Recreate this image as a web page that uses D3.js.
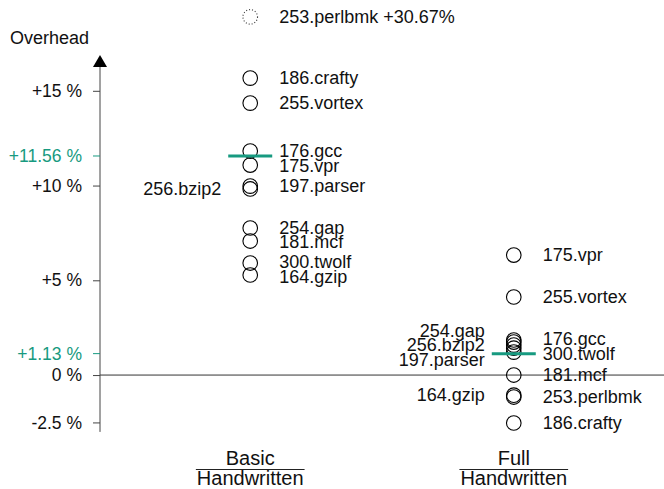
<!DOCTYPE html>
<html>
<head>
<meta charset="utf-8">
<script src="https://cdn.jsdelivr.net/npm/d3@7"></script>
<style>
  body { margin: 0; background: #fff; }
  text { font-family: "Liberation Sans", Arial, Helvetica, sans-serif; fill: #111; }
</style>
</head>
<body>
<div id="chart"></div>
<script>
const width = 664;
const height = 489;

// data (overhead in %)
const benchmarks = ["164.gzip", "175.vpr", "176.gcc", "181.mcf", "186.crafty", "197.parser",
  "253.perlbmk", "254.gap", "255.vortex", "256.bzip2", "300.twolf"];
const basicOverhead = [5.28, 11.08, 11.82, 7.07, 15.67, 9.97, 30.67, 7.76, 14.35, 9.82, 5.91];
const fullOverhead = [-1.06, 6.33, 1.85, 0.0, -2.53, 1.42, -1.16, 1.74, 4.12, 1.58, 1.21];
const basicLeftLabels = ["256.bzip2"];
const fullLeftLabels = ["164.gzip", "197.parser", "254.gap", "256.bzip2"];
const meanOverhead = [11.56, 1.13];
const meanLabels = ["+11.56 %", "+1.13 %"];
const columns = ["Basic", "Full"];
const columnSub = ["Handwritten", "Handwritten"];
const tickValues = [-2.5, 0, 5, 10, 15];
const tickLabels = ["-2.5 %", "0 %", "+5 %", "+10 %", "+15 %"];

const axisMax = 17; // values above this are drawn clipped at the top
const clipLevel = 18.9;
const green = "#179a80";

const svg = d3.select("#chart").append("svg").attr("width", width).attr("height", height);

const x = d3.scalePoint().domain(columns).range([100, 664]).padding(0.57);
const y = d3.scaleLinear().domain([-3, axisMax]).range([431.9, 52.9]);

// zero line
svg.append("line")
  .attr("x1", 100).attr("x2", width)
  .attr("y1", y(0)).attr("y2", y(0))
  .attr("stroke", "#333").attr("stroke-width", 1);

// y axis
const yAxis = d3.axisLeft(y)
  .tickValues(tickValues)
  .tickFormat((d, i) => tickLabels[i])
  .tickSize(7)
  .tickSizeOuter(0)
  .tickPadding(11);

const ax = svg.append("g").attr("transform", "translate(100,0)").call(yAxis);
ax.select(".domain").attr("stroke", "#444").attr("d", `M0,${y(-3)}V${y(axisMax) + 10}`);
ax.selectAll(".tick line").attr("stroke", "#444");
ax.selectAll(".tick text").style("font-size", "17.5px").attr("fill", "#111");

// arrow head
svg.append("path")
  .attr("d", `M93,${y(axisMax) + 14}L100,${y(axisMax) + 2}L107,${y(axisMax) + 14}Z`)
  .attr("fill", "#000");

svg.append("text")
  .attr("x", 10).attr("y", 38).attr("dy", "0.35em")
  .style("font-size", "18px")
  .text("Overhead");

// mean markers on the axis
meanOverhead.forEach((m, i) => {
  svg.append("line")
    .attr("x1", 93).attr("x2", 100).attr("y1", y(m)).attr("y2", y(m))
    .attr("stroke", green).attr("stroke-width", 1);
  svg.append("text")
    .attr("x", 82).attr("y", y(m)).attr("dy", "0.35em")
    .attr("text-anchor", "end")
    .style("font-size", "17.5px")
    .style("fill", green)
    .text(meanLabels[i]);
});

// build point records
function records(values, col, leftLabels) {
  return benchmarks.map((b, i) => ({
    name: b,
    value: values[i],
    col: col,
    clipped: values[i] > axisMax,
    side: leftLabels.includes(b) ? "left" : "right"
  }));
}
const pts = records(basicOverhead, "Basic", basicLeftLabels)
  .concat(records(fullOverhead, "Full", fullLeftLabels));
pts.forEach(d => { d.py = y(d.clipped ? clipLevel : d.value); d.ly = d.py; });

// spread labels that would sit on top of each other
function dodge(group, gap) {
  group.sort((a, b) => a.py - b.py);
  for (let iter = 0; iter < 50; iter++) {
    let moved = false;
    for (let i = 1; i < group.length; i++) {
      const diff = group[i].ly - group[i - 1].ly;
      if (diff < gap) {
        const shift = (gap - diff) / 2;
        group[i - 1].ly -= shift;
        group[i].ly += shift;
        moved = true;
      }
    }
    if (!moved) break;
  }
}
columns.forEach(c => {
  ["left", "right"].forEach(s => dodge(pts.filter(d => d.col === c && d.side === s), 14.5));
});

// circles
svg.append("g").selectAll("circle")
  .data(pts)
  .join("circle")
  .attr("cx", d => x(d.col))
  .attr("cy", d => d.py)
  .attr("r", 7.3)
  .attr("fill", "none")
  .attr("stroke", d => d.clipped ? "#333" : "#000")
  .attr("stroke-width", 1.1)
  .attr("stroke-dasharray", d => d.clipped ? "1,2" : null);

// labels
svg.append("g").selectAll("text")
  .data(pts)
  .join("text")
  .attr("x", d => x(d.col) + (d.side === "left" ? -29 : 29))
  .attr("y", d => d.ly)
  .attr("dy", "0.35em")
  .attr("text-anchor", d => d.side === "left" ? "end" : "start")
  .style("font-size", "18px")
  .text(d => d.clipped ? `${d.name} +${d.value.toFixed(2)}%` : d.name);

// mean lines
svg.append("g").selectAll("line")
  .data(meanOverhead)
  .join("line")
  .attr("x1", (d, i) => x(columns[i]) - 22)
  .attr("x2", (d, i) => x(columns[i]) + 22)
  .attr("y1", d => y(d)).attr("y2", d => y(d))
  .attr("stroke", green).attr("stroke-width", 3);

// category labels (fraction style)
columns.forEach((c, i) => {
  const g = svg.append("g").attr("transform", `translate(${x(c)},0)`);
  g.append("text").attr("y", 465).attr("text-anchor", "middle").style("font-size", "20px").text(c);
  const sub = g.append("text").attr("y", 485).attr("text-anchor", "middle").style("font-size", "20px").text(columnSub[i]);
  const w = sub.node().getComputedTextLength();
  g.append("line").attr("x1", -w / 2 - 1).attr("x2", w / 2 + 1)
    .attr("y1", 469.5).attr("y2", 469.5).attr("stroke", "#222").attr("stroke-width", 1);
});
</script>
</body>
</html>
